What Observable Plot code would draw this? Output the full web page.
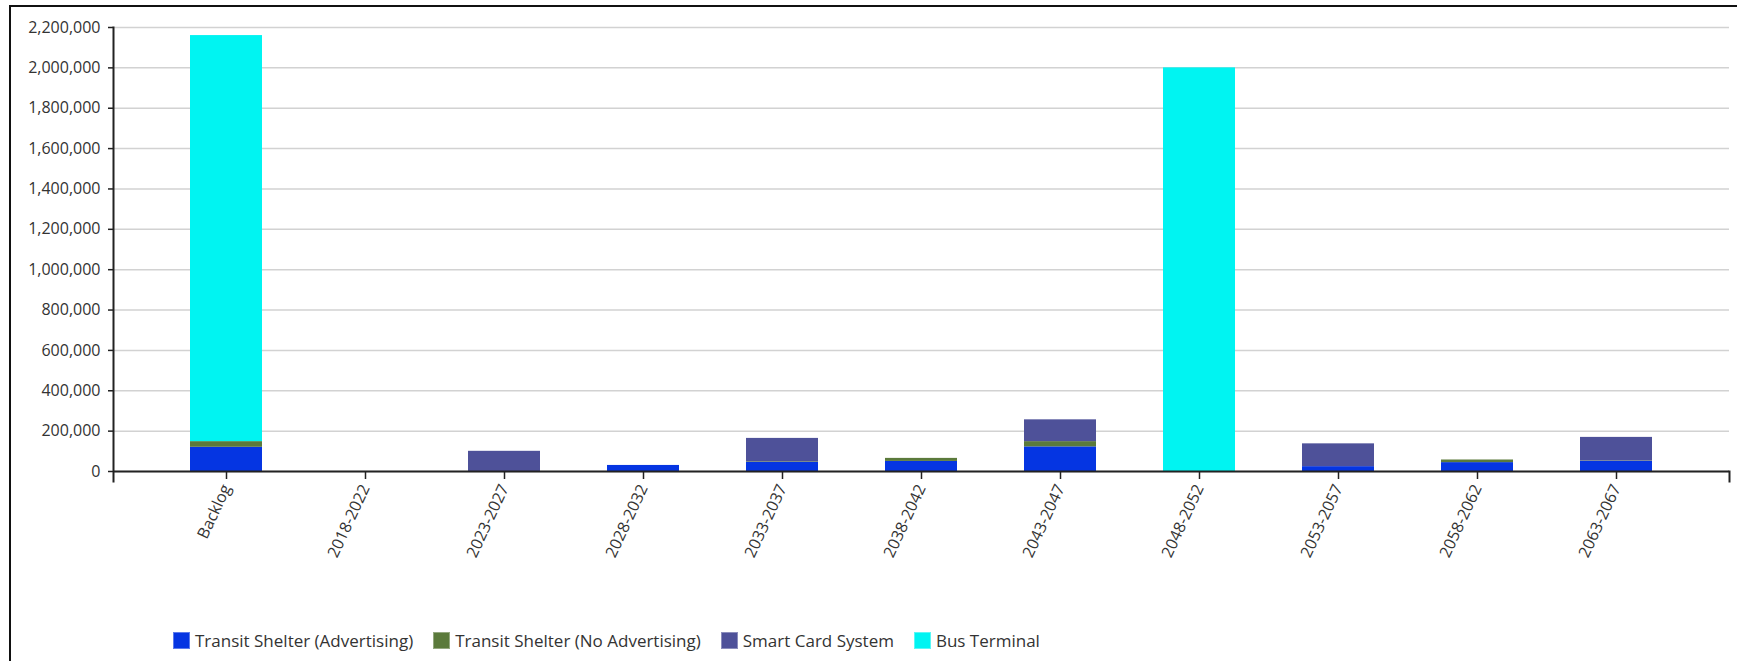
<!DOCTYPE html>
<html>
<head>
<meta charset="utf-8">
<script src="https://cdn.jsdelivr.net/npm/d3@7"></script>
<script src="https://cdn.jsdelivr.net/npm/@observablehq/plot@0.6"></script>
<style>
  html, body { margin: 0; padding: 0; background: #fff; }
  body { width: 1737px; height: 661px; overflow: hidden; position: relative; font-family: "Open Sans", sans-serif; }
  #frame { position: absolute; left: 9px; top: 5px; width: 1900px; height: 900px; border-top: 2px solid #111; border-left: 2px solid #111; pointer-events: none; }
  #chart svg { display: block; }
  #legend { display: flex; align-items: center; height: 26px; padding-left: 173px; font-size: 17px; color: #333; }
  .item { display: flex; align-items: center; margin-right: 20px; }
  .sw { width: 17px; height: 17px; margin-right: 5px; box-sizing: border-box; border: 1px solid rgba(255,255,255,0.35); }
</style>
</head>
<body>
<div id="chart"></div>
<div id="legend"></div>
<div id="frame"></div>
<script>
const periods = ["Backlog", "2018-2022", "2023-2027", "2028-2032", "2033-2037", "2038-2042", "2043-2047", "2048-2052", "2053-2057", "2058-2062", "2063-2067"];
const seriesNames = ["Transit Shelter (Advertising)", "Transit Shelter (No Advertising)", "Smart Card System", "Bus Terminal"];
const seriesColors = ["#0535E2", "#5B7A3B", "#4E5199", "#00F4F2"];
const transitShelterAdvertising = [120000, 0, 0, 30000, 45000, 50000, 122000, 0, 24000, 44000, 50000];
const transitShelterNoAdvertising = [28000, 0, 0, 0, 3000, 15000, 26000, 0, 0, 13000, 2000];
const smartCardSystem = [0, 0, 100000, 0, 116000, 0, 108000, 0, 113000, 0, 117000];
const busTerminal = [2012000, 0, 0, 0, 0, 0, 0, 2000000, 0, 0, 0];
const yTicks = [0, 200000, 400000, 600000, 800000, 1000000, 1200000, 1400000, 1600000, 1800000, 2000000, 2200000];

const seriesValues = [transitShelterAdvertising, transitShelterNoAdvertising, smartCardSystem, busTerminal];
const data = [];
seriesNames.forEach((s, si) => {
  periods.forEach((p, pi) => {
    data.push({period: p, series: s, value: seriesValues[si][pi]});
  });
});

const fmt = d3.format(",");

const chart = Plot.plot({
  width: 1737,
  height: 627,
  marginTop: 27,
  marginBottom: 156,
  marginLeft: 113,
  marginRight: 8,
  style: {fontFamily: "Open Sans, sans-serif", fontSize: "16px", color: "#333", background: "transparent", overflow: "visible"},
  x: {type: "band", domain: periods, paddingInner: 0.485, paddingOuter: 0.527, label: null},
  y: {domain: [0, 2200000], label: null},
  color: {domain: seriesNames, range: seriesColors},
  marks: [
    Plot.gridY(yTicks, {stroke: "#d2d2d2", strokeOpacity: 1, strokeWidth: 1.5}),
    Plot.barY(data, {x: "period", y: "value", fill: "series", order: seriesNames}),
    Plot.axisY(yTicks, {tickFormat: fmt, tickSize: 5, tickPadding: 8, stroke: "#222", strokeWidth: 1.5, fill: "#333", label: null}),
    Plot.axisX({tickSize: 8, tickRotate: -65, tickPadding: 6, stroke: "#222", strokeWidth: 1.5, fill: "#333", label: null}),
    Plot.frame({anchor: "left", insetBottom: -10, stroke: "#222", strokeWidth: 2}),
    Plot.frame({anchor: "right", insetTop: 444, insetBottom: -10, stroke: "#222", strokeWidth: 2}),
    Plot.ruleY([0], {stroke: "#222", strokeWidth: 2})
  ]
});
document.getElementById("chart").appendChild(chart);

const legend = document.getElementById("legend");
seriesNames.forEach((s, i) => {
  const item = document.createElement("div");
  item.className = "item";
  const sw = document.createElement("div");
  sw.className = "sw";
  sw.style.background = seriesColors[i];
  const label = document.createElement("span");
  label.textContent = s;
  item.appendChild(sw);
  item.appendChild(label);
  legend.appendChild(item);
});
</script>
</body>
</html>
